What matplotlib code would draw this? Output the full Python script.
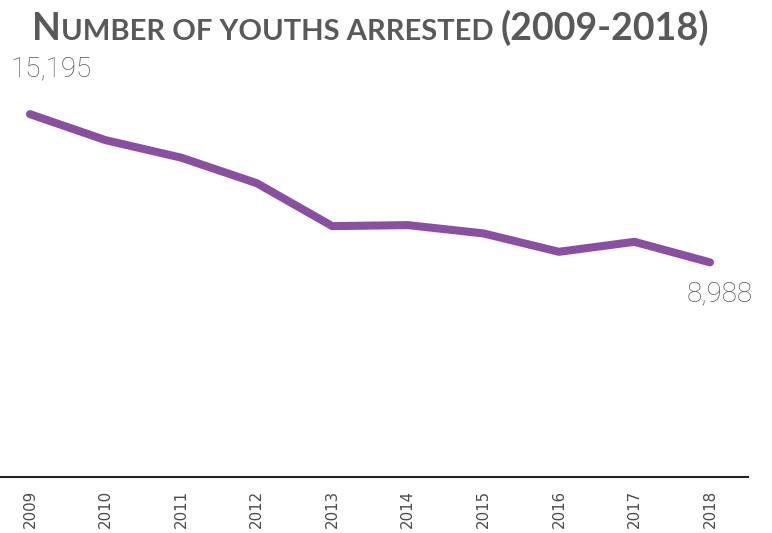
import matplotlib
matplotlib.use("Agg")
import matplotlib.pyplot as plt
from matplotlib.transforms import offset_copy

years = ["2009", "2010", "2011", "2012", "2013", "2014", "2015", "2016", "2017", "2018"]
arrests = [15195, 14106, 13374, 12306, 10506, 10548, 10201, 9431, 9849, 8988]
title_text = "Number of youths arrested (2009-2018)"

W, H, DPI = 772, 533, 100
fig = plt.figure(figsize=(W / DPI, H / DPI), dpi=DPI)
ax = fig.add_axes([0, (H - 477) / H, 748 / W, (477 - 40) / H])

x = list(range(len(years)))
line_color = "#8950A2"
ax.plot(x, arrests, color=line_color, lw=5.8, solid_capstyle="round",
        solid_joinstyle="miter", clip_on=False)

ax.set_xlim(-30 / 75.56, 9 + 38 / 75.56)
ax.set_ylim(0, 18300)
ax.set_xticks(x)
ax.set_xticklabels(years, rotation=90, fontsize=10.8, color="#4a4a4a",
                   family=["DejaVu Sans"])
ax.tick_params(axis="x", length=0, pad=9)
ax.set_yticks([])
for s in ["top", "left", "right"]:
    ax.spines[s].set_visible(False)
ax.spines["bottom"].set_color("#222222")
ax.spines["bottom"].set_linewidth(1.5)

lab_kw = dict(fontsize=20, color="#555555", family=["Roboto", "DejaVu Sans"],
              fontweight="light")
ax.annotate(f"{arrests[0]:,}", (x[0], arrests[0]), xytext=(-14, 23),
            textcoords="offset points", ha="left", va="bottom", **lab_kw)
ax.annotate(f"{arrests[-1]:,}", (x[-1], arrests[-1]), xytext=(7, -13),
            textcoords="offset points", ha="center", va="top", **lab_kw)

# Title in small caps
big, small = 27, 21
runs = []
for ch in title_text:
    if ch.islower():
        sz, c = small, ch.upper()
    elif ch == " ":
        sz, c = small, ch
    else:
        sz, c = big, ch
    if runs and runs[-1][1] == sz:
        runs[-1][0] += c
    else:
        runs.append([c, sz])

fig.canvas.draw()
renderer = fig.canvas.get_renderer()
trans = fig.transFigure
x0, y0 = 32 / W, (H - 40) / H
t = trans
for txt, sz in runs:
    tx = fig.text(x0, y0, txt, transform=t, fontsize=sz, fontweight="bold",
                  color="#595959", family=["Lato", "DejaVu Sans"],
                  ha="left", va="baseline")
    ext = tx.get_window_extent(renderer=renderer)
    t = offset_copy(t, fig=fig, x=ext.width * 72 / DPI, y=0, units="points")

fig.savefig("out.png", dpi=DPI)
